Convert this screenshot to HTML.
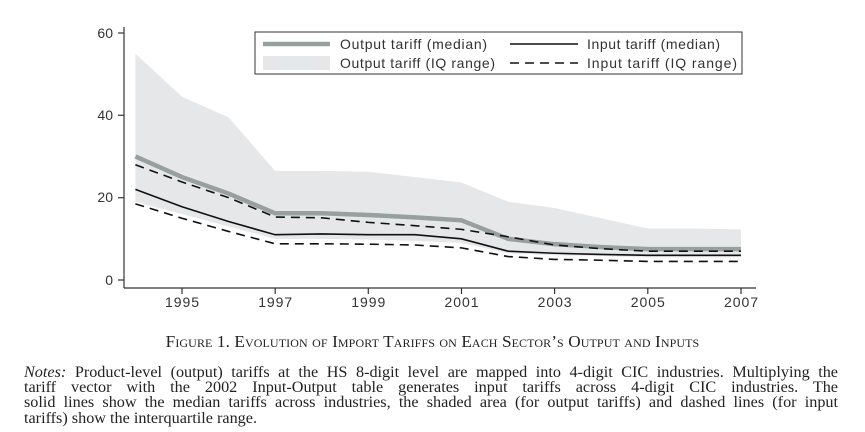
<!DOCTYPE html>
<html><head><style>
body{margin:0;background:#fff;width:865px;height:432px;overflow:hidden;position:relative}
svg{position:absolute;left:0;top:0}
.cap{position:absolute;top:332px;left:0;width:865px;text-align:center;font-family:"Liberation Serif",serif;font-size:17.2px;font-variant:small-caps;color:#222;letter-spacing:0.1px}
.notes{position:absolute;left:24px;top:365px;width:814px;font-family:"Liberation Serif",serif;font-size:16.2px;line-height:15.2px;color:#222}
.notes div{text-align:justify;text-align-last:justify;white-space:nowrap}
.notes div.l{text-align-last:left}
</style></head><body>
<svg width="865" height="330" font-family="Liberation Sans, sans-serif">
<g transform="translate(135.4,280) scale(46.58,-4.117)">
<polygon fill="#e6e7e9" points="0,55 1,44.5 2,39.5 3,26.5 4,26.5 5,26.3 6,25 7,23.7 8,19 9,17.5 10,15 11,12.5 12,12.5 13,12.3 13,5.5 12,5.5 11,5.5 10,5.8 9,6 8,6.5 7,9 6,9.5 5,9.8 4,10 3,10 2,13 1,16 0,19"/>
<polyline fill="none" stroke="#97a09d" stroke-width="4.5" vector-effect="non-scaling-stroke" points="0,30 1,25 2,21 3,16.2 4,16.2 5,15.8 6,15.2 7,14.5 8,10 9,8.7 10,8 11,7.5 12,7.5 13,7.5"/>
<polyline fill="none" stroke="#111" stroke-width="1.6" stroke-dasharray="9,6" vector-effect="non-scaling-stroke" points="0,28 1,23.8 2,20 3,15.3 4,15.1 5,14 6,13.2 7,12.3 8,10.5 9,8.5 10,7.6 11,7 12,7 13,7"/>
<polyline fill="none" stroke="#111" stroke-width="1.6" vector-effect="non-scaling-stroke" points="0,22 1,17.8 2,14.2 3,11 4,11.2 5,11 6,11 7,10 8,7 9,6.5 10,6.2 11,6 12,6 13,6"/>
<polyline fill="none" stroke="#111" stroke-width="1.6" stroke-dasharray="9,6" vector-effect="non-scaling-stroke" points="0,18.5 1,15 2,11.8 3,8.8 4,8.8 5,8.7 6,8.5 7,7.8 8,5.7 9,5 10,4.8 11,4.5 12,4.5 13,4.5"/>
</g>
<g stroke="#333" stroke-width="1.2" fill="none">
<line x1="124" y1="27" x2="124" y2="288"/>
<line x1="124" y1="288" x2="756" y2="288"/>
<line x1="118" y1="33" x2="124" y2="33"/><line x1="118" y1="115.3" x2="124" y2="115.3"/><line x1="118" y1="197.7" x2="124" y2="197.7"/><line x1="118" y1="280" x2="124" y2="280"/>
<line x1="182" y1="288" x2="182" y2="294"/><line x1="275.2" y1="288" x2="275.2" y2="294"/><line x1="368.3" y1="288" x2="368.3" y2="294"/><line x1="461.5" y1="288" x2="461.5" y2="294"/><line x1="554.6" y1="288" x2="554.6" y2="294"/><line x1="647.8" y1="288" x2="647.8" y2="294"/><line x1="741" y1="288" x2="741" y2="294"/>
</g>
<g font-size="14" fill="#333" text-anchor="end">
<text x="113" y="38">60</text><text x="113" y="120">40</text><text x="113" y="202">20</text><text x="113" y="285">0</text>
</g>
<g font-size="14" fill="#333" text-anchor="middle">
<text x="182" y="307" textLength="34">1995</text><text x="275.2" y="307" textLength="34">1997</text><text x="368.3" y="307" textLength="34">1999</text><text x="461.5" y="307" textLength="34">2001</text><text x="554.6" y="307" textLength="34">2003</text><text x="647.8" y="307" textLength="34">2005</text><text x="741" y="307" textLength="34">2007</text>
</g>
<rect x="255" y="32" width="487" height="42" fill="#fff" stroke="#333" stroke-width="1"/>
<line x1="263" y1="44" x2="330" y2="44" stroke="#97a09d" stroke-width="4.5"/>
<rect x="263" y="56" width="67" height="14" fill="#e6e7e9"/>
<line x1="510" y1="44" x2="578" y2="44" stroke="#111" stroke-width="1.6"/>
<line x1="510" y1="63" x2="578" y2="63" stroke="#111" stroke-width="1.6" stroke-dasharray="9,6"/>
<g font-size="14" fill="#333">
<text x="340" y="49" textLength="147">Output tariff (median)</text>
<text x="340" y="68" textLength="155">Output tariff (IQ range)</text>
<text x="587" y="49" textLength="133">Input tariff (median)</text>
<text x="587" y="68" textLength="150">Input tariff  (IQ range)</text>
</g>
</svg>
<div class="cap">Figure 1. Evolution of Import Tariffs on Each Sector’s Output and Inputs</div>
<div class="notes">
<div><i>Notes:</i> Product-level (output) tariffs at the HS 8-digit level are mapped into 4-digit CIC industries. Multiplying the</div>
<div>tariff vector with the 2002 Input-Output table generates input tariffs across 4-digit CIC industries. The</div>
<div>solid lines show the median tariffs across industries, the shaded area (for output tariffs) and dashed lines (for input</div>
<div class="l">tariffs) show the interquartile range.</div>
</div>
</body></html>
